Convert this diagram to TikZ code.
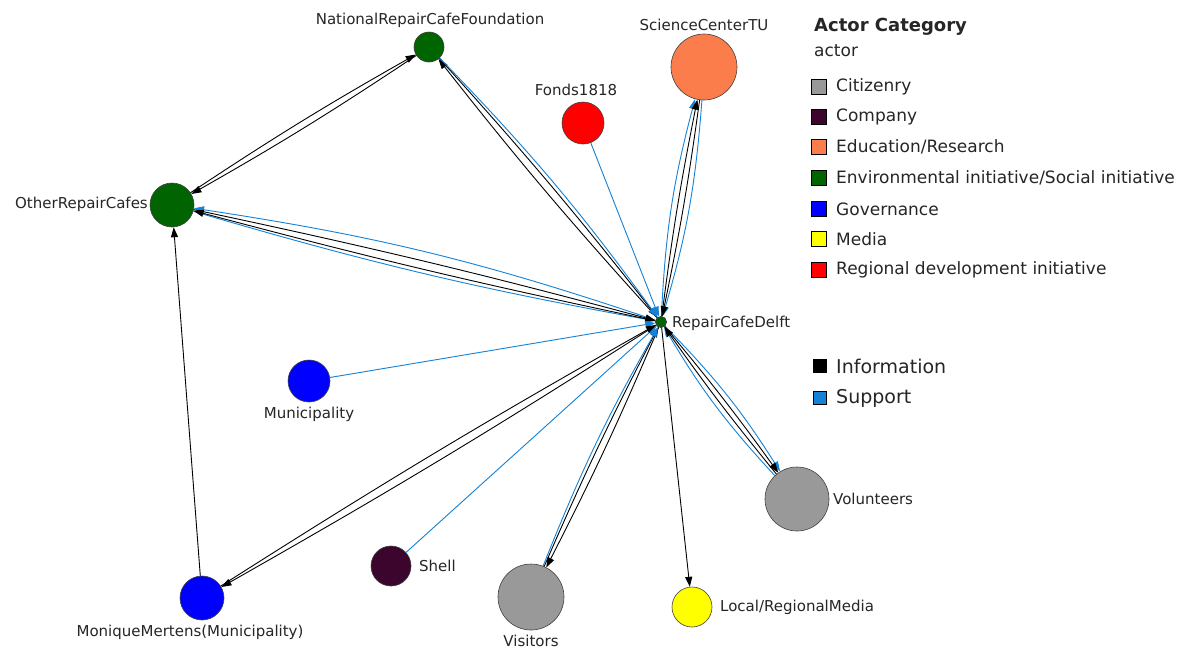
\documentclass[tikz,border=0pt]{standalone}
\usepackage{fontspec}
\setmainfont{DejaVu Sans}
\usetikzlibrary{arrows.meta}
\definecolor{envgreen}{RGB}{0,100,0}
\definecolor{edugreen}{RGB}{250,125,75}
\definecolor{citgray}{RGB}{153,153,153}
\definecolor{compmaroon}{RGB}{60,5,45}
\definecolor{govblue}{RGB}{0,0,255}
\definecolor{medyellow}{RGB}{255,255,0}
\definecolor{regred}{RGB}{255,0,0}
\definecolor{suppblue}{RGB}{20,130,215}
\tikzset{
  actor/.style={circle, draw=black!75, line width=0.6pt, inner sep=0pt},
  lbl/.style={font=\fontsize{15}{17}\selectfont, inner sep=0pt, text=black!85},
  info/.style={draw=black, line width=0.9pt, -{Triangle[length=10pt,width=7pt]}},
  supp/.style={draw=suppblue, line width=0.9pt, -{Triangle[length=10pt,width=7pt]}},
  legsq/.style={rectangle, draw=black, line width=0.6pt, minimum size=15pt, inner sep=0pt},
  legtxt/.style={anchor=west, inner sep=0pt, font=\fontsize{17}{19}\selectfont, text=black!85},
  legtxtbig/.style={anchor=west, inner sep=0pt, font=\fontsize{19}{21}\selectfont, text=black!85}
}
\begin{document}
\begin{tikzpicture}[x=1pt,y=-1pt]
\useasboundingbox (0,0) rectangle (1185,649);
\fill[white] (0,0) rectangle (1185,649);

% actors
\node[actor, fill=envgreen, minimum size=30pt] (nrcf) at (429,47) {};
\node[actor, fill=edugreen, minimum size=66pt] (sct) at (704,67) {};
\node[actor, fill=regred, minimum size=42pt] (fonds) at (583,123) {};
\node[actor, fill=envgreen, minimum size=44pt] (orc) at (172,205) {};
\node[actor, fill=envgreen, minimum size=11pt] (rcd) at (661,322) {};
\node[actor, fill=govblue, minimum size=42pt] (mun) at (309,381) {};
\node[actor, fill=citgray, minimum size=64pt] (vol) at (797,499) {};
\node[actor, fill=compmaroon, minimum size=40pt] (shell) at (391,566) {};
\node[actor, fill=citgray, minimum size=66pt] (vis) at (531,597) {};
\node[actor, fill=medyellow, minimum size=40pt] (media) at (692,607) {};
\node[actor, fill=govblue, minimum size=44pt] (mm) at (202,598) {};

% labels
\node[lbl] (nrcfl) at (430,20) {NationalRepairCafeFoundation};
\node[lbl] (sctl) at (704,25) {ScienceCenterTU};
\node[lbl] (fondsl) at (576,90) {Fonds1818};
\node[lbl, anchor=east] (orcl) at (148,204) {OtherRepairCafes};
\node[lbl, anchor=west] (rcdl) at (672,323) {RepairCafeDelft};
\node[lbl] (munl) at (309,414) {Municipality};
\node[lbl, anchor=west] (voll) at (833,499) {Volunteers};
\node[lbl, anchor=west] (shelll) at (419,566) {Shell};
\node[lbl] (visl) at (531,641) {Visitors};
\node[lbl, anchor=west] (medial) at (720,607) {Local/RegionalMedia};
\node[lbl] (mml) at (190,632) {MoniqueMertens(Municipality)};

% edges
\draw[info] (orc) to[bend left=2] (nrcf);
\draw[info] (nrcf) to[bend left=2] (orc);

\draw[info] (rcd) to[bend left=2] (nrcf);
\draw[info] (nrcf) to[bend left=2] (rcd);
\draw[supp] (nrcf) to[bend left=4] (rcd);

\draw[supp] (rcd) to[bend left=6] (sct);
\draw[supp] (sct) to[bend left=6] (rcd);
\draw[info] (rcd) to[bend left=2] (sct);
\draw[info] (sct) to[bend left=2] (rcd);

\draw[supp] (rcd) to[bend right=5] (orc);
\draw[supp] (orc) to[bend right=3] (rcd);
\draw[info] (rcd) to[bend left=1.5] (orc);
\draw[info] (orc) to[bend left=1.5] (rcd);

\draw[supp] (fonds) -- (rcd);
\draw[supp] (mun) -- (rcd);
\draw[supp] (shell) -- (rcd);

\draw[info] (rcd) to[bend left=1.5] (mm);
\draw[info] (mm) to[bend left=1.5] (rcd);
\draw[info] (mm) -- (orc);

\draw[info] (rcd) to[bend left=2] (vis);
\draw[info] (vis) to[bend left=2] (rcd);
\draw[supp] (vis) to[bend left=4] (rcd);

\draw[info] (rcd) -- (media);

\draw[supp] (rcd) to[bend left=6] (vol);
\draw[supp] (vol) to[bend left=6] (rcd);
\draw[info] (rcd) to[bend left=2] (vol);
\draw[info] (vol) to[bend left=2] (rcd);

% redraw centre node on top
\node[actor, fill=envgreen, minimum size=11pt] at (rcd) {};

% legend
\node[anchor=west, inner sep=0pt, font=\bfseries\fontsize{18}{20}\selectfont, text=black!85] (legtitle) at (814,27) {Actor Category};
\node[legtxt] (legsub) at (814,51) {actor};
\node[legsq, fill=citgray] (s1) at (819,87) {};
\node[legtxt] (t1) at (836,87) {Citizenry};
\node[legsq, fill=compmaroon] (s2) at (819,117) {};
\node[legtxt] (t2) at (836,117) {Company};
\node[legsq, fill=edugreen] (s3) at (819,147) {};
\node[legtxt] (t3) at (836,147) {Education/Research};
\node[legsq, fill=envgreen] (s4) at (819,178) {};
\node[legtxt] (t4) at (836,178) {Environmental initiative/Social initiative};
\node[legsq, fill=govblue] (s5) at (819,209) {};
\node[legtxt] (t5) at (836,209) {Governance};
\node[legsq, fill=medyellow] (s6) at (819,239) {};
\node[legtxt] (t6) at (836,239) {Media};
\node[legsq, fill=regred] (s7) at (819,270) {};
\node[legtxt] (t7) at (836,270) {Regional development initiative};

\node[legsq, fill=black, minimum size=13pt] (e1) at (820,366) {};
\node[legtxtbig] (et1) at (836,366) {Information};
\node[legsq, fill=suppblue, minimum size=13pt] (e2) at (820,398) {};
\node[legtxtbig] (et2) at (836,398) {Support};
\end{tikzpicture}
\end{document}
